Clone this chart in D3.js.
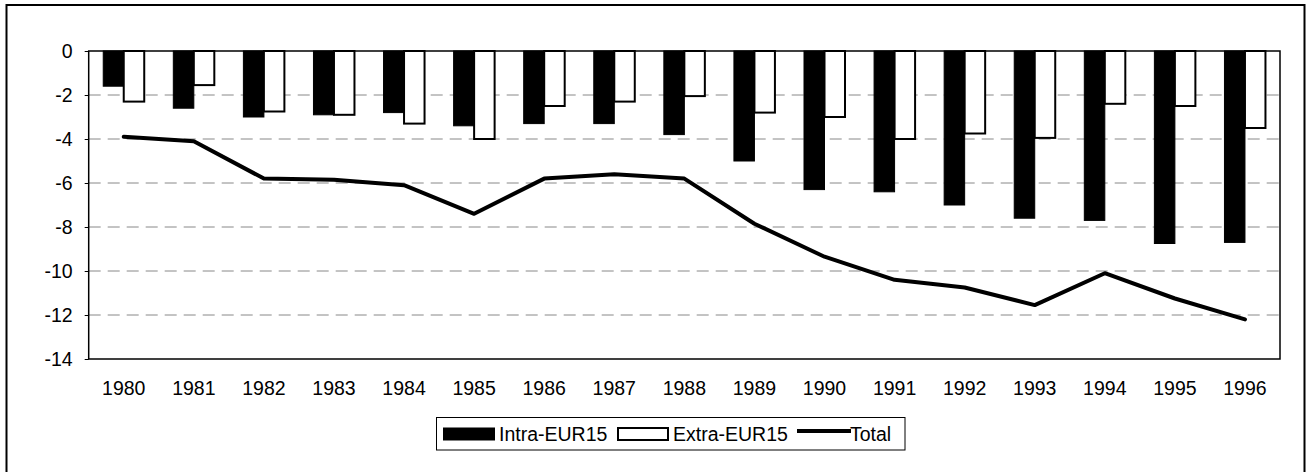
<!DOCTYPE html>
<html>
<head>
<meta charset="utf-8">
<script src="https://cdn.jsdelivr.net/npm/d3@7"></script>
<style>
  html, body { margin: 0; padding: 0; background: #fff; }
  svg { display: block; }
  text { font-family: "Liberation Sans", Arial, sans-serif; fill: #000; }
</style>
</head>
<body>
<svg id="chart" width="1313" height="472"></svg>
<script>
const years = ["1980","1981","1982","1983","1984","1985","1986","1987","1988","1989","1990","1991","1992","1993","1994","1995","1996"];
const intraEUR15 = [-1.6,-2.6,-3.0,-2.9,-2.8,-3.4,-3.3,-3.3,-3.8,-5.0,-6.3,-6.4,-7.0,-7.6,-7.7,-8.75,-8.7];
const extraEUR15 = [-2.3,-1.55,-2.75,-2.9,-3.3,-4.0,-2.5,-2.3,-2.05,-2.8,-3.0,-4.0,-3.75,-3.95,-2.4,-2.5,-3.5];
const total = [-3.9,-4.1,-5.8,-5.85,-6.1,-7.4,-5.8,-5.6,-5.8,-7.85,-9.35,-10.4,-10.75,-11.55,-10.1,-11.25,-12.2];
const yTicks = [0,-2,-4,-6,-8,-10,-12,-14];
const seriesNames = ["Intra-EUR15","Extra-EUR15","Total"];

const FS = "19.5px";
const svg = d3.select("#chart");

// outer frame
svg.append("rect").attr("x", 6.5).attr("y", 5).attr("width", 1298).attr("height", 480)
  .attr("fill", "none").attr("stroke", "#000").attr("stroke-width", 2);

const plot = {left: 88.7, top: 51, right: 1280, bottom: 359};

const x = d3.scaleBand().domain(years).range([plot.left, plot.right]).paddingInner(0).paddingOuter(0);
const y = d3.scaleLinear().domain([-14, 0]).range([plot.bottom, plot.top]);

const groupW = 41;
const sub = d3.scaleBand().domain(["intra","extra"]).range([0, groupW]).padding(0);

// gridlines
const grid = svg.append("g");
grid.selectAll("line").data(yTicks.filter(t => t !== 0 && t !== -14)).join("line")
  .attr("x1", plot.left).attr("x2", plot.right)
  .attr("y1", d => y(d)).attr("y2", d => y(d))
  .attr("stroke", "#888").attr("stroke-width", 1).attr("stroke-dasharray", "12,7");

// bars
const gBars = svg.append("g");
years.forEach((yr, i) => {
  const x0 = x(yr) + (x.bandwidth() - groupW) / 2;
  gBars.append("rect")
    .attr("x", x0 + sub("intra")).attr("y", y(0))
    .attr("width", sub.bandwidth()).attr("height", y(intraEUR15[i]) - y(0))
    .attr("fill", "#000").attr("stroke", "#000").attr("stroke-width", 1);
  gBars.append("rect")
    .attr("x", x0 + sub("extra")).attr("y", y(0))
    .attr("width", sub.bandwidth()).attr("height", y(extraEUR15[i]) - y(0))
    .attr("fill", "#fff").attr("stroke", "#000").attr("stroke-width", 2);
});

// plot frame
svg.append("rect").attr("x", plot.left).attr("y", plot.top)
  .attr("width", plot.right - plot.left).attr("height", plot.bottom - plot.top)
  .attr("fill", "none").attr("stroke", "#000").attr("stroke-width", 1.5);

// total line
const line = d3.line().x((d, i) => x(years[i]) + x.bandwidth() / 2).y(d => y(d));
svg.append("path").datum(total).attr("d", line)
  .attr("fill", "none").attr("stroke", "#000").attr("stroke-width", 4)
  .attr("stroke-linejoin", "round").attr("stroke-linecap", "round");

// y axis
const yAxis = d3.axisLeft(y).tickValues(yTicks).tickFormat(d => String(d)).tickSize(4).tickPadding(12);
const gy = svg.append("g").attr("transform", `translate(${plot.left},0)`).call(yAxis);
gy.select(".domain").remove();
gy.selectAll("text").style("font-size", FS).attr("font-family", "Liberation Sans, Arial, sans-serif");

// x axis
const xAxis = d3.axisBottom(x).tickSize(0).tickPadding(22);
const gx = svg.append("g").attr("transform", `translate(0,${plot.bottom})`).call(xAxis);
gx.select(".domain").remove();
gx.selectAll("text").style("font-size", FS).attr("font-family", "Liberation Sans, Arial, sans-serif");

// legend
const lg = svg.append("g");
lg.append("rect").attr("x", 436.5).attr("y", 417.5).attr("width", 468.5).attr("height", 32.5)
  .attr("fill", "#fff").attr("stroke", "#000").attr("stroke-width", 1);
lg.append("rect").attr("x", 443.5).attr("y", 428).attr("width", 51).attr("height", 12)
  .attr("fill", "#000").attr("stroke", "#000");
lg.append("text").attr("x", 499).attr("y", 440.5).style("font-size", FS).text(seriesNames[0]);
lg.append("rect").attr("x", 618).attr("y", 428).attr("width", 50).attr("height", 12)
  .attr("fill", "#fff").attr("stroke", "#000").attr("stroke-width", 2);
lg.append("text").attr("x", 673).attr("y", 440.5).style("font-size", FS).text(seriesNames[1]);
lg.append("line").attr("x1", 797).attr("x2", 851).attr("y1", 431).attr("y2", 431)
  .attr("stroke", "#000").attr("stroke-width", 4);
lg.append("text").attr("x", 850).attr("y", 440.5).style("font-size", FS).text(seriesNames[2]);
</script>
</body>
</html>
